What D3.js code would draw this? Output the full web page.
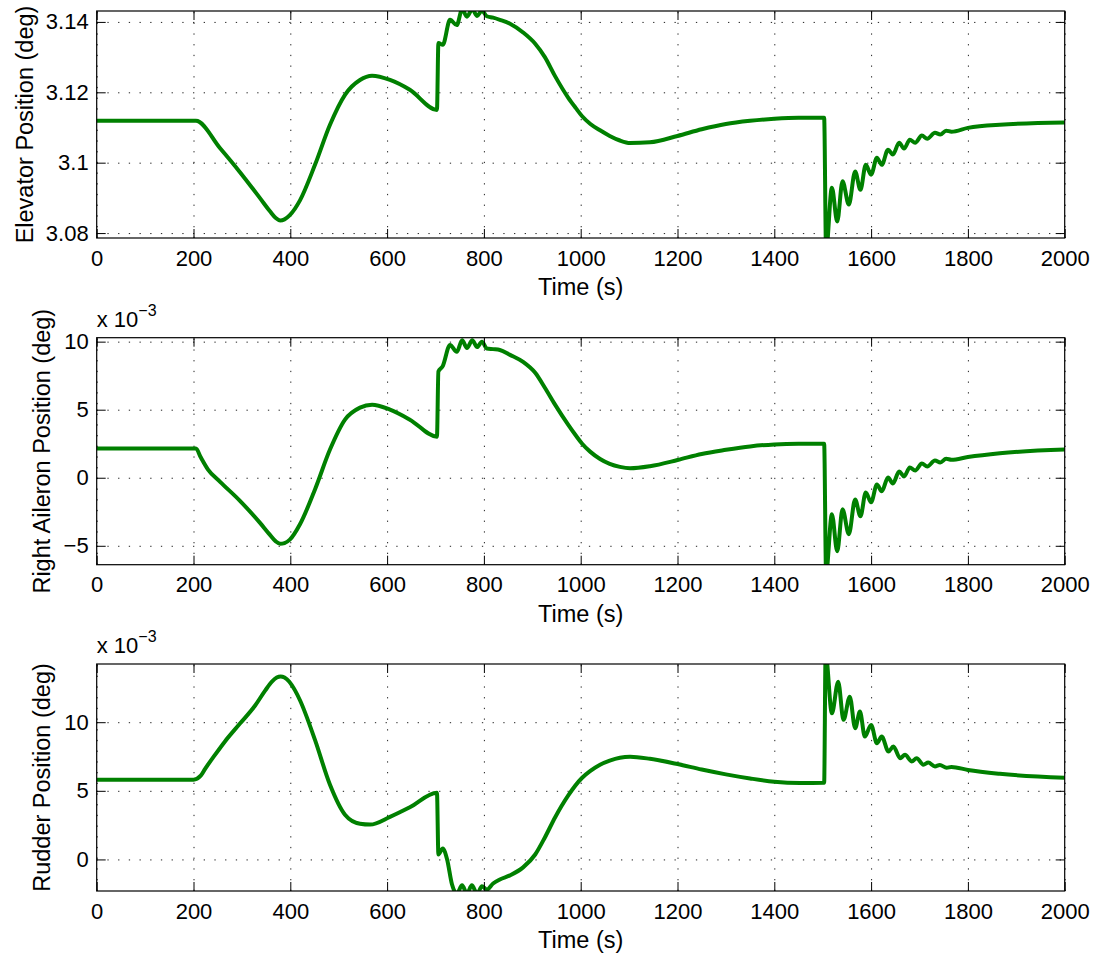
<!DOCTYPE html>
<html>
<head>
<meta charset="utf-8">
<script src="https://cdn.jsdelivr.net/npm/d3@7"></script>
<style>
  body { margin: 0; background: #fff; }
  text { font-family: "Liberation Sans", Arial, Helvetica, sans-serif; }
</style>
</head>
<body>
<div id="chart"></div>
<script>
// time axis
var timeTicks = [0, 200, 400, 600, 800, 1000, 1200, 1400, 1600, 1800, 2000];
var timeTickLabels = ["0", "200", "400", "600", "800", "1000", "1200", "1400", "1600", "1800", "2000"];

// elevator position (deg) as [time, value]
var elevator = [
  [0, 3.1119], [205, 3.1119], [255, 3.1041], [296, 3.0973], [337, 3.0900], [358, 3.0862],
  [370, 3.0843], [379, 3.0836], [388, 3.0839], [399, 3.0851], [420, 3.0893], [451, 3.0994],
  [482, 3.1108], [513, 3.1193], [544, 3.1235], [569, 3.1247], [606, 3.1235], [647, 3.1207],
  [703, 3.1150], [706, 3.1340],
  [715, 3.1335], [730, 3.1406], [744, 3.1391], [755, 3.1436], [765, 3.1415], [776, 3.1436],
  [786, 3.1417], [796, 3.1432], [806, 3.1416], [819, 3.1412], [833, 3.1406], [854, 3.1395],
  [881, 3.1370], [906, 3.1338], [926, 3.1300], [947, 3.1246], [974, 3.1185], [990, 3.1155],
  [1003, 3.1132], [1020, 3.1110], [1040, 3.1092], [1060, 3.1076], [1081, 3.1063], [1102, 3.1056],
  [1143, 3.1058], [1200, 3.1076], [1250, 3.1095],
  [1300, 3.1110], [1350, 3.1119], [1400, 3.1125], [1450, 3.1128], [1503, 3.1128], [1507, 3.0750],
  [1519, 3.0929], [1530, 3.0833], [1541, 3.0947], [1554, 3.0881], [1567, 3.0975], [1578, 3.0923],
  [1589, 3.0994], [1600, 3.0966], [1612, 3.1014], [1622, 3.0994], [1635, 3.1037], [1645, 3.1023],
  [1658, 3.1057], [1668, 3.1040], [1680, 3.1065], [1691, 3.1057], [1705, 3.1077], [1716, 3.1068],
  [1732, 3.1085], [1743, 3.1080], [1755, 3.1091], [1766, 3.1088], [1800, 3.1099], [1866, 3.1108],
  [2000, 3.1114]
];
var elevatorDomain = [3.0786, 3.1431];
var elevatorTicks = [3.08, 3.1, 3.12, 3.14];
var elevatorTickLabels = ["3.08", "3.1", "3.12", "3.14"];

// right aileron position, in units of 1e-3 deg
var aileron = [
  [0, 2.15], [205, 2.15], [215, 1.5], [230, 0.6], [255, -0.3], [296, -1.7], [337, -3.3],
  [358, -4.2], [370, -4.68], [379, -4.85], [388, -4.8], [399, -4.55], [420, -3.42], [451, -0.86],
  [482, 2.07], [513, 4.27],
  [544, 5.15], [569, 5.37], [606, 5.0], [647, 4.27], [703, 3.02], [706, 7.8], [715, 8.2],
  [730, 9.76], [744, 9.25], [755, 10.1], [765, 9.54], [776, 10.1], [786, 9.6], [796, 10.0],
  [806, 9.5], [819, 9.45], [833, 9.39], [854, 9.03], [881, 8.51], [906, 7.71], [926, 6.61],
  [947, 5.37], [974, 3.90], [990, 3.1], [1003, 2.5], [1020, 1.9], [1040, 1.38], [1060, 1.02],
  [1081, 0.8], [1102, 0.7], [1143, 0.85],
  [1200, 1.3], [1250, 1.75], [1300, 2.05], [1350, 2.3], [1400, 2.45], [1450, 2.5], [1503, 2.5],
  [1507, -7], [1519, -2.69], [1530, -5.40], [1541, -2.32], [1554, -4.15], [1567, -1.59],
  [1578, -2.83], [1589, -1.08], [1600, -1.81], [1612, -0.49], [1622, -1.00], [1635, 0.02],
  [1645, -0.42], [1658, 0.46], [1668, 0.10], [1680, 0.75], [1691, 0.53], [1705, 1.05],
  [1716, 0.83], [1732, 1.27], [1743, 1.12], [1755, 1.40], [1766, 1.32], [1800, 1.52],
  [1866, 1.80], [2000, 2.07]
];
var aileronDomain = [-6.39, 10.29];
var aileronTicks = [-5, 0, 5, 10];
var aileronTickLabels = ["\u22125", "0", "5", "10"];

// rudder position, in units of 1e-3 deg
var rudder = [
  [0, 5.81], [200, 5.81], [215, 6.1], [224, 6.6], [244, 7.6], [265, 8.6], [296, 9.9],
  [327, 11.2], [348, 12.3], [362, 12.95], [372, 13.25], [380, 13.33], [388, 13.25], [398, 12.95],
  [410, 12.3], [420, 11.6],
  [451, 8.71], [482, 5.44], [513, 3.26], [544, 2.6], [565, 2.54], [606, 3.1], [647, 3.8],
  [703, 4.86], [706, 0.36], [715, 0.8], [724, 0.0], [734, -1.81], [744, -2.5], [755, -1.88],
  [765, -2.5], [775, -1.88], [786, -2.5], [796, -1.95], [806, -2.2], [819, -1.75], [833, -1.46],
  [854, -1.16], [881, -0.58], [906, 0.36], [926, 1.6], [947, 3.06], [974, 4.65], [1003, 5.95],
  [1020, 6.45], [1040, 6.90], [1060, 7.2], [1081, 7.41], [1102, 7.48], [1143, 7.33], [1200, 6.95],
  [1250, 6.55],
  [1300, 6.2], [1350, 5.9], [1400, 5.66], [1453, 5.57], [1503, 5.59], [1506, 15],
  [1519, 10.65], [1532, 12.95], [1543, 10.17], [1556, 11.86], [1567, 9.56], [1577, 10.77],
  [1587, 8.95], [1600, 9.80], [1612, 8.47], [1622, 8.95], [1636, 7.86], [1646, 8.23],
  [1660, 7.38], [1670, 7.62], [1684, 7.14], [1694, 7.38], [1708, 6.90], [1718, 7.06],
  [1732, 6.78], [1742, 6.88], [1756, 6.68], [1766, 6.74], [1800, 6.52], [1866, 6.24],
  [2000, 5.95]
];
var rudderDomain = [-2.3, 14.24];
var rudderTicks = [0, 5, 10];
var rudderTickLabels = ["0", "5", "10"];

var panels = [
  { data: elevator, domain: elevatorDomain, ticks: elevatorTicks, tickLabels: elevatorTickLabels,
    label: "Elevator Position (deg)", scaled: false },
  { data: aileron, domain: aileronDomain, ticks: aileronTicks, tickLabels: aileronTickLabels,
    label: "Right Aileron Position (deg)", scaled: true },
  { data: rudder, domain: rudderDomain, ticks: rudderTicks, tickLabels: rudderTickLabels,
    label: "Rudder Position (deg)", scaled: true }
];

var fullWidth = 1097, fullHeight = 956;
var left = 96.7, width = 968, height = 227;
var tops = [11, 337.7, 664];
var labelX = [32.5, 50.5, 50.5];
var tickLen = 9;

var svg = d3.select("#chart")
  .append("svg")
  .attr("width", fullWidth)
  .attr("height", fullHeight);

var xPositionScale = d3.scaleLinear().domain([0, 2000]).range([0, width]);

panels.forEach(function(p, i) {
  var g = svg.append("g")
    .attr("transform", "translate(" + left + "," + tops[i] + ")");

  var yPositionScale = d3.scaleLinear().domain(p.domain).range([height, 0]);

  // dotted grid
  g.append("g")
    .attr("class", "grid")
    .attr("transform", "translate(0," + height + ")")
    .call(d3.axisBottom(xPositionScale).tickValues(timeTicks).tickSize(-height).tickFormat(""));
  g.append("g")
    .attr("class", "grid")
    .call(d3.axisLeft(yPositionScale).tickValues(p.ticks).tickSize(-width).tickFormat(""));
  g.selectAll(".grid .domain").remove();
  g.selectAll(".grid line")
    .attr("stroke", "#222")
    .attr("stroke-width", 1)
    .attr("stroke-dasharray", "1.3,9.4");

  // the line
  var clipId = "clip" + i;
  g.append("clipPath").attr("id", clipId)
    .append("rect").attr("width", width).attr("height", height);

  var line = d3.line()
    .x(function(d) { return xPositionScale(d[0]); })
    .y(function(d) { return yPositionScale(d[1]); })
    .curve(d3.curveMonotoneX);

  g.append("path")
    .datum(p.data)
    .attr("clip-path", "url(#" + clipId + ")")
    .attr("d", line)
    .attr("fill", "none")
    .attr("stroke", "#008000")
    .attr("stroke-width", 4)
    .attr("stroke-linejoin", "round")
    .attr("stroke-linecap", "round");

  // axes, ticks pointing inward
  var xAxis = d3.axisBottom(xPositionScale).tickValues(timeTicks)
    .tickFormat(function(d, j) { return timeTickLabels[j]; })
    .tickSizeInner(-tickLen).tickSizeOuter(0).tickPadding(12);
  g.append("g").attr("class", "axis x-axis")
    .attr("transform", "translate(0," + height + ")")
    .call(xAxis);

  g.append("g").attr("class", "axis")
    .call(d3.axisTop(xPositionScale).tickValues(timeTicks).tickFormat("")
      .tickSizeInner(-tickLen).tickSizeOuter(0));

  var yAxis = d3.axisLeft(yPositionScale).tickValues(p.ticks)
    .tickFormat(function(d, j) { return p.tickLabels[j]; })
    .tickSizeInner(-tickLen).tickSizeOuter(0).tickPadding(8);
  g.append("g").attr("class", "axis y-axis").call(yAxis);

  g.append("g").attr("class", "axis")
    .attr("transform", "translate(" + width + ",0)")
    .call(d3.axisRight(yPositionScale).tickValues(p.ticks).tickFormat("")
      .tickSizeInner(-tickLen).tickSizeOuter(0));

  g.selectAll(".axis .domain").remove();
  g.selectAll(".axis line").attr("stroke", "#000").attr("stroke-width", 1);
  g.selectAll(".axis text")
    .attr("font-family", "'Liberation Sans', Arial, Helvetica, sans-serif")
    .attr("font-size", 22)
    .attr("fill", "#000");

  g.append("rect")
    .attr("width", width)
    .attr("height", height)
    .attr("fill", "none")
    .attr("stroke", "#000")
    .attr("stroke-width", 1.2);

  // labels
  g.append("text")
    .attr("x", width / 2)
    .attr("y", height + 57)
    .attr("text-anchor", "middle")
    .attr("font-size", 23.5)
    .text("Time (s)");

  g.append("text")
    .attr("transform", "translate(" + (labelX[i] - left) + "," + (height / 2) + ") rotate(-90)")
    .attr("text-anchor", "middle")
    .attr("font-size", 23.5)
    .text(p.label);

  if (p.scaled) {
    var ex = g.append("text")
      .attr("x", 0)
      .attr("y", -11)
      .attr("font-size", 22);
    ex.append("tspan").text("x 10");
    ex.append("tspan").attr("dy", -11).attr("font-size", 16).text("\u22123");
  }
});
</script>
</body>
</html>
